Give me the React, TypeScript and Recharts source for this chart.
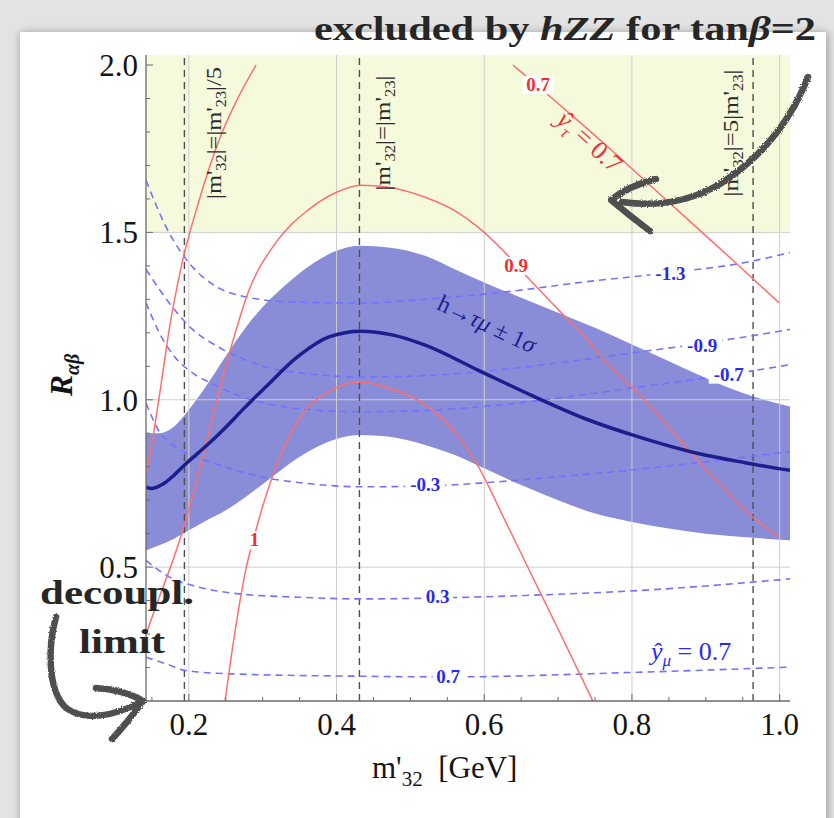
import React from 'react';
import {
  ComposedChart,
  Line,
  Area,
  XAxis,
  YAxis,
  ReferenceLine,
  ReferenceArea,
  ReferenceDot,
} from 'recharts';

// axes
const xDomain = [0.142, 1.014];
const yDomain = [0.1, 2.03];
const xMajorTicks = [0.2, 0.4, 0.6, 0.8, 1.0];
const xMinorTicks = [0.15, 0.25, 0.3, 0.35, 0.45, 0.5, 0.55, 0.65, 0.7, 0.75, 0.85, 0.9, 0.95];
const yMajorTicks = [0.5, 1.0, 1.5, 2.0];
const yMinorTicks = [0.2, 0.3, 0.4, 0.6, 0.7, 0.8, 0.9, 1.1, 1.2, 1.3, 1.4, 1.6, 1.7, 1.8, 1.9];
const xTicks = [...xMajorTicks, ...xMinorTicks].sort((a, b) => a - b);
const yTicks = [...yMajorTicks, ...yMinorTicks].sort((a, b) => a - b);
const xGrid = [0.2, 0.4, 0.6, 0.8, 1.0];
const yGrid = [0.5, 1.0, 1.5];
const excludedFrom = 1.5;

// h -> tau mu, central value and 1 sigma band
const centerX = [0.142, 0.15, 0.165, 0.18, 0.196, 0.22, 0.246, 0.275, 0.304, 0.347, 0.39, 0.433, 0.477, 0.52, 0.592, 0.664, 0.736, 0.809, 0.881, 0.953, 1.014];
const centerY = [0.739, 0.735, 0.748, 0.775, 0.809, 0.855, 0.909, 0.975, 1.038, 1.128, 1.188, 1.205, 1.193, 1.163, 1.088, 1.013, 0.944, 0.889, 0.844, 0.812, 0.789];

const bandX = [0.142, 0.16, 0.18, 0.2, 0.22, 0.25, 0.28, 0.31, 0.34, 0.37, 0.4, 0.433, 0.47, 0.52, 0.56, 0.6, 0.65, 0.7, 0.75, 0.8, 0.85, 0.9, 0.95, 1.014];
const bandHi = [0.9, 0.9, 0.92, 0.97, 1.03, 1.13, 1.225, 1.3, 1.36, 1.41, 1.445, 1.46, 1.455, 1.43, 1.39, 1.35, 1.305, 1.26, 1.215, 1.165, 1.115, 1.065, 1.02, 0.98];
const bandLo = [0.55, 0.565, 0.585, 0.61, 0.635, 0.67, 0.715, 0.765, 0.815, 0.855, 0.883, 0.895, 0.89, 0.865, 0.835, 0.795, 0.745, 0.7, 0.66, 0.635, 0.615, 0.6, 0.59, 0.58];

// y_tau contours (red)
const tauAX = [0.142, 0.15, 0.16, 0.174, 0.19, 0.214, 0.241, 0.265, 0.291];
const tauAY = [0.78, 0.87, 1.01, 1.218, 1.4, 1.596, 1.776, 1.895, 2.0];
const tau09X = [0.142, 0.16, 0.18, 0.196, 0.22, 0.25, 0.282, 0.318, 0.361, 0.4, 0.433, 0.47, 0.52, 0.56, 0.592, 0.628, 0.657, 0.7, 0.736, 0.77, 0.809, 0.845, 0.881, 0.92, 0.953, 0.999];
const tau09Y = [0.3, 0.41, 0.53, 0.64, 0.84, 1.1, 1.33, 1.47, 1.566, 1.62, 1.641, 1.635, 1.605, 1.565, 1.515, 1.44, 1.37, 1.27, 1.188, 1.1, 1.018, 0.93, 0.839, 0.745, 0.67, 0.59];
const tau1X = [0.249, 0.262, 0.276, 0.292, 0.318, 0.347, 0.39, 0.433, 0.47, 0.52, 0.542, 0.57, 0.592, 0.628, 0.66, 0.7, 0.747];
const tau1Y = [0.1, 0.3, 0.48, 0.62, 0.8, 0.935, 1.025, 1.053, 1.035, 0.985, 0.945, 0.875, 0.8, 0.64, 0.495, 0.315, 0.1];
const tau07X = [0.639, 0.7, 0.76, 0.82, 0.88, 0.94, 0.999];
const tau07Y = [2.0, 1.885, 1.77, 1.65, 1.53, 1.41, 1.29];

// y_mu contours (blue dashed)
const muM13X = [0.142, 0.169, 0.201, 0.232, 0.268, 0.34, 0.433, 0.52, 0.628, 0.736, 0.852, 0.953, 1.014];
const muM13Y = [1.656, 1.517, 1.407, 1.345, 1.312, 1.292, 1.289, 1.3, 1.322, 1.352, 1.38, 1.41, 1.44];
const muM09X = [0.142, 0.16, 0.181, 0.205, 0.232, 0.27, 0.304, 0.36, 0.433, 0.52, 0.6, 0.7, 0.8, 0.895, 1.014];
const muM09Y = [1.39, 1.33, 1.268, 1.21, 1.168, 1.125, 1.098, 1.078, 1.068, 1.072, 1.085, 1.11, 1.14, 1.168, 1.21];
const muM07X = [0.142, 0.16, 0.181, 0.205, 0.232, 0.27, 0.304, 0.36, 0.433, 0.52, 0.6, 0.7, 0.8, 0.931, 1.014];
const muM07Y = [1.29, 1.2, 1.128, 1.08, 1.048, 1.01, 0.989, 0.971, 0.964, 0.968, 0.98, 1.005, 1.035, 1.075, 1.105];
const muM03X = [0.142, 0.16, 0.18, 0.205, 0.232, 0.27, 0.304, 0.36, 0.433, 0.52, 0.6, 0.7, 0.8, 0.881, 0.95, 1.014];
const muM03Y = [0.99, 0.905, 0.862, 0.832, 0.812, 0.785, 0.767, 0.75, 0.74, 0.742, 0.752, 0.77, 0.79, 0.81, 0.828, 0.845];
const muP03X = [0.142, 0.174, 0.214, 0.268, 0.35, 0.431, 0.537, 0.664, 0.809, 0.999, 1.014];
const muP03Y = [0.52, 0.47, 0.44, 0.42, 0.41, 0.405, 0.408, 0.416, 0.43, 0.462, 0.465];
const muP07X = [0.142, 0.169, 0.196, 0.259, 0.431, 0.551, 0.809, 1.014];
const muP07Y = [0.231, 0.211, 0.191, 0.181, 0.174, 0.172, 0.186, 0.201];

// |m'32| vs |m'23| guides
const guideX = [0.194, 0.431, 0.964];
const guideLabelY = 1.797;
const guideLabels: [string, boolean][][] = [
  [["|m'", false], ['32', true], ["|=|m'", false], ['23', true], ['|/5', false]],
  [["|m'", false], ['32', true], ["|=|m'", false], ['23', true], ['|', false]],
  [["|m'", false], ['32', true], ["|=5|m'", false], ['23', true], ['|', false]],
];
const guideLabelShift = [30, 24, -22];
const guideLabelLength = [132, 115, 127];

// contour labels
const tauLabels = [
  { x: 0.673, y: 1.94, text: '0.7' },
  { x: 0.643, y: 1.4, text: '0.9' },
  { x: 0.289, y: 0.58, text: '1' },
];
const muLabels = [
  { x: 0.852, y: 1.375, text: '-1.3' },
  { x: 0.895, y: 1.16, text: '-0.9' },
  { x: 0.931, y: 1.075, text: '-0.7' },
  { x: 0.52, y: 0.745, text: '-0.3' },
  { x: 0.537, y: 0.41, text: '0.3' },
  { x: 0.551, y: 0.172, text: '0.7' },
];

const zip = (xs: number[], ys: number[]) => xs.map((x, i) => ({ x, y: ys[i] }));
const bandData = bandX.map((x, i) => ({ x, range: [bandLo[i], bandHi[i]] }));

const serif = '"Liberation Serif", "Times New Roman", serif';
const AXIS = '#6b6b6b';
const RED = '#ff6e6e';
const RED_TEXT = '#f03030';
const BLUE = '#7272ff';
const BLUE_TEXT = '#2a2af0';
const NAVY = '#1b1f8e';

function BottomTick({ x, y, payload }: any) {
  const major = xMajorTicks.includes(payload.value);
  return (
    <g>
      <line x1={x} x2={x} y1={y} y2={y - (major ? 7 : 4)} stroke={AXIS} />
      {major && (
        <text x={x} y={y + 34} textAnchor="middle" fontFamily={serif} fontSize={31} fill="#141414">
          {payload.value.toFixed(1)}
        </text>
      )}
    </g>
  );
}

function TopTick({ x, y, payload }: any) {
  const major = xMajorTicks.includes(payload.value);
  return <line x1={x} x2={x} y1={y} y2={y + (major ? 7 : 4)} stroke={AXIS} />;
}

function LeftTick({ x, y, payload }: any) {
  const major = yMajorTicks.includes(payload.value);
  return (
    <g>
      <line x1={x} x2={x + (major ? 7 : 4)} y1={y} y2={y} stroke={AXIS} />
      {major && (
        <text x={x - 8} y={y + 11} textAnchor="end" fontFamily={serif} fontSize={31} fill="#141414">
          {payload.value.toFixed(1)}
        </text>
      )}
    </g>
  );
}

function RightTick({ x, y, payload }: any) {
  const major = yMajorTicks.includes(payload.value);
  return <line x1={x} x2={x - (major ? 7 : 4)} y1={y} y2={y} stroke={AXIS} />;
}

function contourLabel(text: string, color: string) {
  const w = text.length * 9 + 4;
  return ({ cx, cy }: any) => (
    <g>
      <rect x={cx - w / 2} y={cy - 9} width={w} height={18} fill="#ffffff" />
      <text
        x={cx}
        y={cy + 6}
        textAnchor="middle"
        fill={color}
        fontSize={19}
        fontWeight="bold"
        fontFamily={serif}
      >
        {text}
      </text>
    </g>
  );
}

function guideLabel(i: number) {
  return ({ cx, cy }: any) => {
    const px = cx + guideLabelShift[i];
    let shift = 0;
    return (
      <text
        transform={`translate(${px + 7},${cy}) rotate(-90)`}
        textAnchor="middle"
        fontFamily={serif}
        fontSize={21}
        fill="#2b2b2b"
        textLength={guideLabelLength[i]}
        lengthAdjust="spacingAndGlyphs"
      >
        {guideLabels[i].map(([t, sub], k) => {
          const dy = sub ? 5 - shift : 0 - shift;
          shift = sub ? 5 : 0;
          return (
            <tspan key={k} dy={dy} fontSize={sub ? 14 : 21}>
              {t}
            </tspan>
          );
        })}
      </text>
    );
  };
}

function bandLabel({ cx, cy }: any) {
  return (
    <text
      transform={`translate(${cx},${cy}) rotate(25)`}
      textAnchor="middle"
      fontFamily={serif}
      fontSize={24}
      fill={NAVY}
    >
      h→<tspan fontStyle="italic">τμ</tspan> ± 1<tspan fontStyle="italic">σ</tspan>
    </text>
  );
}

function tauTitle({ cx, cy }: any) {
  return (
    <text
      transform={`translate(${cx},${cy}) rotate(42)`}
      textAnchor="middle"
      fontFamily={serif}
      fontSize={26}
      fill={RED_TEXT}
    >
      <tspan fontStyle="italic">ŷ</tspan>
      <tspan dy={6} fontSize={17} fontStyle="italic">τ</tspan>
      <tspan dy={-6}>{' = 0.7'}</tspan>
    </text>
  );
}

function muTitle({ cx, cy }: any) {
  return (
    <text x={cx} y={cy + 8} textAnchor="middle" fontFamily={serif} fontSize={26} fill={BLUE_TEXT}>
      <tspan fontStyle="italic">ŷ</tspan>
      <tspan dy={6} fontSize={17} fontStyle="italic">μ</tspan>
      <tspan dy={-6}>{' = 0.7'}</tspan>
    </text>
  );
}

export default function App() {
  const redLines = [
    zip(tauAX, tauAY),
    zip(tau09X, tau09Y),
    zip(tau1X, tau1Y),
    zip(tau07X, tau07Y),
  ];
  const blueLines = [
    zip(muM13X, muM13Y),
    zip(muM09X, muM09Y),
    zip(muM07X, muM07Y),
    zip(muM03X, muM03Y),
    zip(muP03X, muP03Y),
    zip(muP07X, muP07Y),
  ];

  return (
    <div style={{ position: 'absolute', left: 0, top: 0, width: 834, height: 818, overflow: 'hidden', background: '#e3e3e3' }}>
      <div
        style={{
          position: 'absolute',
          left: 20,
          top: 32,
          width: 806,
          height: 810,
          background: '#ffffff',
          boxShadow: '1px 1px 9px rgba(0,0,0,0.35)',
        }}
      />
      <div style={{ position: 'absolute', left: 0, top: 0 }}>
        <ComposedChart width={834} height={818} margin={{ top: 55, right: 44, bottom: 87, left: 106 }}>
          <XAxis
            dataKey="x"
            type="number"
            domain={xDomain}
            allowDataOverflow
            ticks={xTicks}
            interval={0}
            height={30}
            tickSize={0}
            tickMargin={0}
            tickLine={false}
            axisLine={{ stroke: AXIS, strokeWidth: 1.3 }}
            tick={BottomTick}
          />
          <XAxis
            xAxisId="top"
            orientation="top"
            dataKey="x"
            type="number"
            domain={xDomain}
            allowDataOverflow
            ticks={xTicks}
            interval={0}
            height={0}
            tickSize={0}
            tickMargin={0}
            tickLine={false}
            axisLine={{ stroke: AXIS, strokeWidth: 1.3 }}
            tick={TopTick}
          />
          <YAxis
            type="number"
            domain={yDomain}
            allowDataOverflow
            ticks={yTicks}
            interval={0}
            width={40}
            tickSize={0}
            tickMargin={0}
            tickLine={false}
            axisLine={{ stroke: AXIS, strokeWidth: 1.3 }}
            tick={LeftTick}
          />
          <YAxis
            yAxisId="right"
            orientation="right"
            type="number"
            domain={yDomain}
            allowDataOverflow
            ticks={yTicks}
            interval={0}
            width={0}
            tickSize={0}
            tickMargin={0}
            tickLine={false}
            axisLine={{ stroke: AXIS, strokeWidth: 1.3 }}
            tick={RightTick}
          />

          <ReferenceArea y1={excludedFrom} y2={yDomain[1]} fill="#f5fadd" fillOpacity={1} stroke="none" />
          {xGrid.map((v) => (
            <ReferenceLine key={`gx${v}`} x={v} stroke="#cfcfcf" strokeWidth={1} />
          ))}
          {yGrid.map((v) => (
            <ReferenceLine key={`gy${v}`} y={v} stroke="#cfcfcf" strokeWidth={1} />
          ))}

          <Area
            data={bandData}
            dataKey="range"
            type="monotone"
            fill="#7478cf"
            fillOpacity={0.85}
            stroke="none"
            isAnimationActive={false}
          />

          {guideX.map((v) => (
            <ReferenceLine key={`g${v}`} x={v} stroke="#4e4e4e" strokeWidth={1.4} strokeDasharray="7 5" />
          ))}

          {blueLines.map((d, i) => (
            <Line
              key={`b${i}`}
              data={d}
              dataKey="y"
              type="monotone"
              stroke={BLUE}
              strokeWidth={1.6}
              strokeDasharray="7 5"
              dot={false}
              isAnimationActive={false}
            />
          ))}
          {redLines.map((d, i) => (
            <Line
              key={`r${i}`}
              data={d}
              dataKey="y"
              type="monotone"
              stroke={RED}
              strokeWidth={1.5}
              dot={false}
              isAnimationActive={false}
            />
          ))}
          <Line
            data={zip(centerX, centerY)}
            dataKey="y"
            type="monotone"
            stroke={NAVY}
            strokeWidth={3.5}
            dot={false}
            isAnimationActive={false}
          />

          {guideX.map((v, i) => (
            <ReferenceDot key={`gl${i}`} x={v} y={guideLabelY} r={0} shape={guideLabel(i)} />
          ))}
          {tauLabels.map((l, i) => (
            <ReferenceDot key={`tl${i}`} x={l.x} y={l.y} r={0} shape={contourLabel(l.text, RED_TEXT)} />
          ))}
          {muLabels.map((l, i) => (
            <ReferenceDot key={`ml${i}`} x={l.x} y={l.y} r={0} shape={contourLabel(l.text, BLUE_TEXT)} />
          ))}
          <ReferenceDot x={0.599} y={1.205} r={0} shape={bandLabel} />
          <ReferenceDot x={0.735} y={1.752} r={0} shape={tauTitle} />
          <ReferenceDot x={0.88} y={0.245} r={0} shape={muTitle} />
        </ComposedChart>
      </div>

      <svg width={834} height={818} style={{ position: 'absolute', left: 0, top: 0, pointerEvents: 'none' }}>
        <defs>
          <filter id="rough" x="-10%" y="-10%" width="120%" height="120%">
            <feTurbulence type="fractalNoise" baseFrequency="0.8" numOctaves={2} result="noise" />
            <feDisplacementMap in="SourceGraphic" in2="noise" scale={3} />
          </filter>
        </defs>
        <text
          x={314}
          y={40}
          fontFamily={serif}
          fontWeight="bold"
          fontSize={34}
          fill="#262626"
          textLength={502}
          lengthAdjust="spacingAndGlyphs"
        >
          excluded by <tspan fontStyle="italic">hZZ</tspan> for tan<tspan fontStyle="italic">β</tspan>=2
        </text>
        <text transform="translate(72,375) rotate(-90)" textAnchor="middle" fontFamily={serif} fill="#141414">
          <tspan fontSize={32} fontStyle="italic" fontWeight="bold">R</tspan>
          <tspan fontSize={20} dy={7} fontStyle="italic" fontWeight="bold">αβ</tspan>
        </text>
        <text x={372} y={778} fontFamily={serif} fontSize={31} fill="#141414">
          m'<tspan dy={8} fontSize={21}>32</tspan>
          <tspan dy={-8}>{'\u00a0\u00a0[GeV]'}</tspan>
        </text>
        <text x={40} y={604} fontFamily={serif} fontWeight="bold" fontSize={34} fill="#262626" textLength={154} lengthAdjust="spacingAndGlyphs">
          decoupl.
        </text>
        <text x={79} y={653} fontFamily={serif} fontWeight="bold" fontSize={34} fill="#262626" textLength={86} lengthAdjust="spacingAndGlyphs">
          limit
        </text>
        <g stroke="#4f4f4f" strokeWidth={6.5} fill="none" strokeLinecap="round" strokeLinejoin="round" filter="url(#rough)">
          <path d="M 808 77 C 795 110, 770 152, 720 184 C 690 202, 655 207, 622 202" />
          <path d="M 656 179 Q 628 186, 611 200 Q 630 216, 650 231" />
          <path d="M 56 617 C 48 645, 47 690, 66 708 C 85 722, 115 716, 143 701" />
          <path d="M 96 688 Q 125 690, 143 701 Q 128 722, 112 739" />
        </g>
      </svg>
    </div>
  );
}
